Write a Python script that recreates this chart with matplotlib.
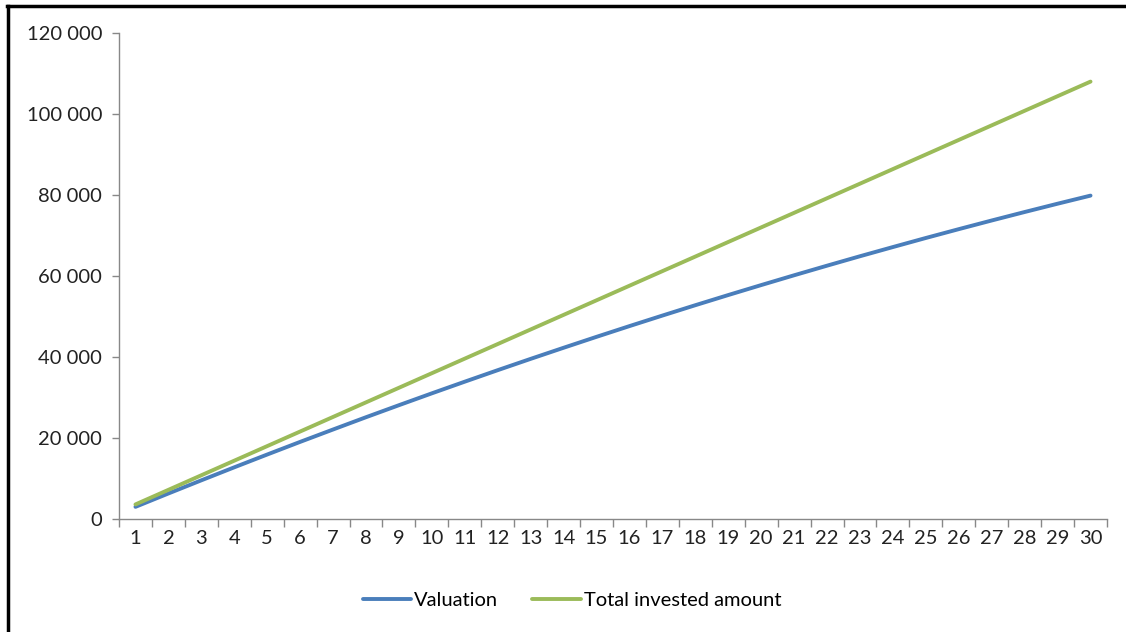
import matplotlib.pyplot as plt
from matplotlib.lines import Line2D
from matplotlib.ticker import FuncFormatter, FixedLocator

years = list(range(1, 31))
valuation = [3000, 6300, 9550, 12760, 15920, 19040, 22100, 25130, 28100, 31030,
             33910, 36750, 39540, 42280, 44980, 47630, 50230, 52790, 55300, 57760,
             60180, 62550, 64880, 67150, 69390, 71570, 73710, 75800, 77850, 79850]
invested = [3600 * y for y in years]

plt.rcParams['font.family'] = ['Lato', 'DejaVu Sans']

fig = plt.figure(figsize=(11.26, 6.32), dpi=100)
ax = fig.add_axes([119 / 1126, 1 - 519 / 632, (1107 - 119) / 1126, (519 - 33) / 632])

ax.plot(years, valuation, color='#4a7ebb', lw=2.8, label='Valuation', solid_capstyle='round')
ax.plot(years, invested, color='#9bbb59', lw=2.8, label='Total invested amount', solid_capstyle='round')

ax.set_xlim(0.5, 30.5)
ax.set_ylim(0, 120000)
ax.set_yticks(range(0, 120001, 20000))
ax.yaxis.set_major_formatter(FuncFormatter(lambda v, p: '{:,.0f}'.format(v).replace(',', ' ')))

# category axis: ticks between categories, labels at category centers
ax.set_xticks(years)
ax.set_xticklabels([str(y) for y in years])
ax.xaxis.set_minor_locator(FixedLocator([y + 0.5 for y in range(0, 31)]))
ax.tick_params(axis='x', which='major', length=0, pad=8)
ax.tick_params(axis='x', which='minor', length=6, color='#888888', width=1)
ax.tick_params(axis='y', length=5, color='#888888', width=1, pad=7)
ax.tick_params(labelsize=14.5, labelcolor='#222222')

for s in ['top', 'right']:
    ax.spines[s].set_visible(False)
for s in ['left', 'bottom']:
    ax.spines[s].set_color('#888888')
    ax.spines[s].set_linewidth(1)

leg = fig.legend(loc='center', bbox_to_anchor=(0.508, 1 - 600 / 632), ncol=2, frameon=False,
                 fontsize=14.5, handlelength=2.4, handletextpad=0.15, columnspacing=1.7)

# outer border (left and top)
fig.add_artist(Line2D([8 / 1126, 8 / 1126], [0, 1 - 6 / 632], color='black', lw=2.5, transform=fig.transFigure))
fig.add_artist(Line2D([7 / 1126, 1], [1 - 6 / 632, 1 - 6 / 632], color='black', lw=2.5, transform=fig.transFigure))

fig.savefig('out.png', dpi=100)
